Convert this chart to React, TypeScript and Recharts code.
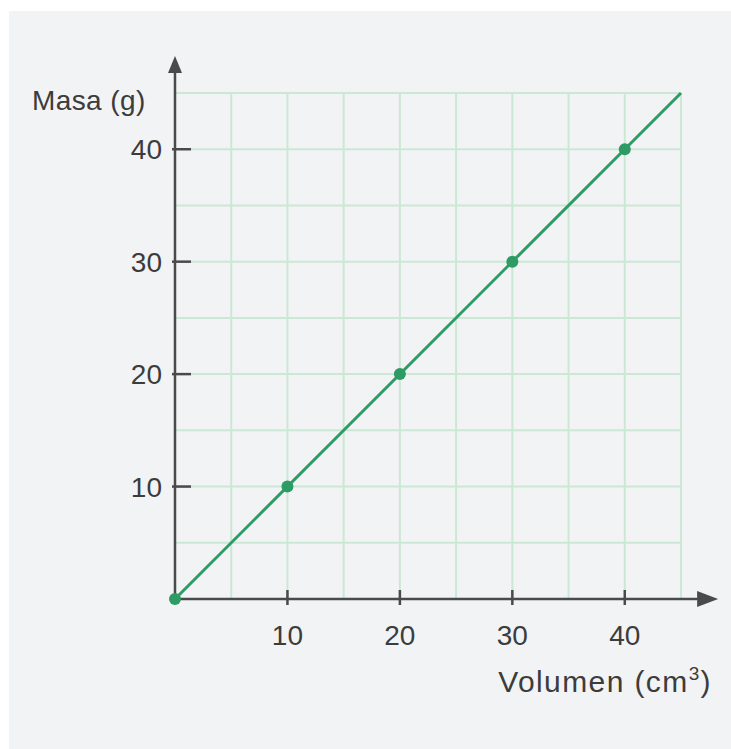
import { ComposedChart, Line, Scatter, XAxis, YAxis, CartesianGrid, ReferenceLine, Label } from 'recharts';

// measured points (volume in cm3, mass in g)
const volumen = [0, 10, 20, 30, 40];
const masa = [0, 10, 20, 30, 40];

// straight line drawn through the points, out to the edge of the grid
const rectaX = [0, 45];
const rectaY = [0, 45];

// grid every 5 units, labels every 10
const gridTicks = [0, 5, 10, 15, 20, 25, 30, 35, 40, 45];
const labelTicks = [10, 20, 30, 40];

// where the arrow tips of the axes end
const axisEnd = 48.3;

const puntos = volumen.map((v, i) => ({ x: v, y: masa[i] }));
const recta = rectaX.map((v, i) => ({ x: v, y: rectaY[i] }));

const GREEN = '#2c9c64';
const GRID = '#cbe8d5';
const AXIS = '#4a4a4a';
const TEXT = '#3c3c3c';
const FONT = '"Liberation Sans", Arial, sans-serif';

const XTick = (props: any) => {
  const { x, y, payload } = props;
  if (!labelTicks.includes(payload.value)) return <g />;
  return (
    <g>
      <line x1={x} x2={x} y1={y - 9} y2={y + 6} stroke={AXIS} strokeWidth={2.5} />
      <text x={x} y={y + 46} textAnchor="middle" fill={TEXT} fontSize={28} fontFamily={FONT}>
        {payload.value}
      </text>
    </g>
  );
};

const YTick = (props: any) => {
  const { x, y, payload } = props;
  if (!labelTicks.includes(payload.value)) return <g />;
  return (
    <g>
      <line x1={x - 3} x2={x + 16} y1={y} y2={y} stroke={AXIS} strokeWidth={2.5} />
      <text x={x - 13} y={y + 10} textAnchor="end" fill={TEXT} fontSize={28} fontFamily={FONT}>
        {payload.value}
      </text>
    </g>
  );
};

const arrowX = (p: any) => (
  <g>
    <line x1={p.x1} y1={p.y1} x2={p.x2 - 18} y2={p.y2} stroke={AXIS} strokeWidth={2.5} />
    <polygon points={`${p.x2},${p.y2} ${p.x2 - 21},${p.y2 - 8} ${p.x2 - 21},${p.y2 + 8}`} fill={AXIS} />
  </g>
);

const arrowY = (p: any) => (
  <g>
    <line x1={p.x1} y1={p.y1} x2={p.x2} y2={p.y2 + 14} stroke={AXIS} strokeWidth={2.5} />
    <polygon points={`${p.x2},${p.y2} ${p.x2 - 7},${p.y2 + 17} ${p.x2 + 7},${p.y2 + 17}`} fill={AXIS} />
  </g>
);

export default function App() {
  return (
    <div style={{ position: 'absolute', left: 0, top: 0, width: 731, height: 749, background: '#fff' }}>
      <div style={{ position: 'absolute', left: 9, top: 11, width: 722, height: 738, background: '#f2f3f5' }} />
      <div style={{ position: 'absolute', left: 0, top: 0 }}>
        <ComposedChart width={731} height={749} margin={{ top: 93, right: 50, bottom: 90, left: 115 }}>
          <CartesianGrid stroke={GRID} strokeWidth={2} />
          <XAxis
            type="number"
            dataKey="x"
            domain={[0, 45]}
            ticks={gridTicks}
            axisLine={false}
            tickLine={false}
            tickSize={0}
            tickMargin={0}
            height={60}
            tick={XTick}
          >
            <Label
              content={(p: any) => (
                <text
                  x={p.viewBox.x + p.viewBox.width + 31}
                  y={p.viewBox.y + 93}
                  textAnchor="end"
                  fill={TEXT}
                  fontSize={30}
                  letterSpacing={1.4}
                  fontFamily={FONT}
                >
                  Volumen (cm<tspan fontSize={19} dy={-12}>3</tspan>
                  <tspan dy={12}>)</tspan>
                </text>
              )}
            />
          </XAxis>
          <YAxis
            type="number"
            dataKey="y"
            domain={[0, 45]}
            ticks={gridTicks}
            axisLine={false}
            tickLine={false}
            tickSize={0}
            tickMargin={0}
            width={60}
            tick={YTick}
          >
            <Label
              content={(p: any) => (
                <text x={32} y={p.viewBox.y + 17} fill={TEXT} fontSize={28} letterSpacing={0.4} fontFamily={FONT}>
                  Masa (g)
                </text>
              )}
            />
          </YAxis>
          <ReferenceLine segment={[{ x: 0, y: 0 }, { x: axisEnd, y: 0 }]} ifOverflow="visible" shape={arrowX} />
          <ReferenceLine segment={[{ x: 0, y: 0 }, { x: 0, y: axisEnd }]} ifOverflow="visible" shape={arrowY} />
          <Line data={recta} dataKey="y" stroke={GREEN} strokeWidth={3} dot={false} isAnimationActive={false} />
          <Scatter
            data={puntos}
            dataKey="y"
            fill={GREEN}
            isAnimationActive={false}
            shape={(p: any) => <circle cx={p.cx} cy={p.cy} r={6} fill={GREEN} />}
          />
        </ComposedChart>
      </div>
    </div>
  );
}
